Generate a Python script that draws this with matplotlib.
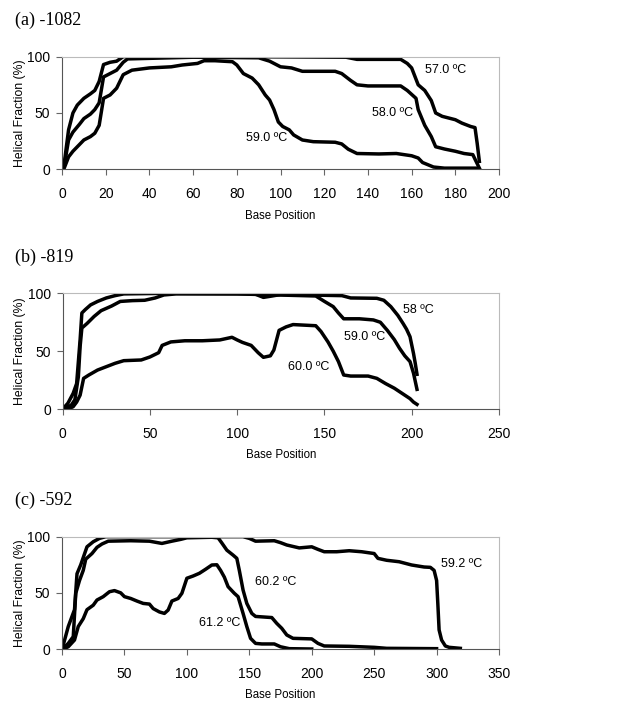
#
# helical fraction profiles, three panels
#
import matplotlib
matplotlib.use("Agg")
import matplotlib.pyplot as plt

# ---- (a) -1082 ----
a57_x = [1, 2, 3, 5, 7, 10, 13, 15, 17, 19, 22, 25, 28, 40, 80, 130, 135, 155, 158, 160, 163, 166, 169, 171, 174, 180, 183, 187, 189, 190, 191]
a57_y = [5, 20, 35, 50, 57, 63, 67, 70, 78, 93, 95, 96, 100, 100, 100, 99.5, 97.6, 97.6, 94, 90, 75, 70, 61, 50, 47, 44, 41, 38, 37, 23, 7]
a58_x = [1, 3, 5, 8, 10, 13, 15, 17, 19, 22, 25, 28, 30, 60, 90, 95, 100, 105, 110, 125, 128, 132, 135, 140, 155, 158, 162, 163, 166, 169, 171, 175, 180, 184, 188, 190, 191]
a58_y = [3, 26, 33, 40, 45, 49, 53, 59, 82, 85, 88, 95, 98, 99.5, 99, 96, 91, 90, 87, 87, 85, 79, 75, 74, 74, 70, 63, 53, 39, 29, 20, 18, 16, 14, 13, 5, 1]
a59_x = [1, 3, 5, 8, 10, 13, 15, 17, 19, 22, 25, 28, 32, 40, 50, 55, 62, 65, 70, 78, 80, 83, 87, 90, 93, 95, 97, 99, 101, 104, 106, 110, 115, 125, 128, 131, 135, 145, 153, 160, 163, 165, 170, 175, 190]
a59_y = [1, 11, 16, 22, 26, 29, 32, 39, 63, 66, 72, 84, 88, 90, 91, 92.6, 94, 96.4, 96.4, 95.5, 92.6, 85, 81, 75, 66, 61.5, 53, 42, 38, 35, 30.5, 26, 24.5, 24, 22.5, 17.8, 14, 13.6, 14, 12, 10, 6, 2, 1, 1]

# ---- (b) -819 ----
b58_x = [0, 3, 6, 8, 10, 11, 13, 16, 20, 25, 30, 35, 60, 110, 115, 120, 125, 160, 165, 180, 184, 188, 192, 195, 197, 199, 201, 202, 203]
b58_y = [0, 5, 13.5, 22, 60, 83, 86, 90, 93, 96, 98, 99.5, 100, 99.5, 96.5, 97.7, 99, 98, 96, 95.7, 94, 88.5, 81, 74, 69, 62.5, 48, 39.5, 30]
b59_x = [0, 2, 5, 7, 9, 10, 11, 14, 18, 22, 28, 33, 40, 47, 53, 58, 65, 100, 145, 150, 155, 158, 161, 170, 178, 182, 186, 190, 193, 196, 199, 201, 203]
b59_y = [0, 1, 3.5, 8, 28, 54, 70, 74, 80, 85, 89, 93, 93.7, 94, 96, 98.6, 99.5, 99.5, 97.7, 93, 88.5, 83, 78, 78, 77, 75, 68, 60, 52.5, 46, 41, 31, 17]
b60_x = [0, 3, 6, 8, 10, 12, 15, 20, 25, 30, 35, 45, 50, 55, 57, 62, 70, 80, 90, 97, 100, 103, 108, 112, 115, 119, 121, 124, 128, 132, 145, 148, 152, 155, 158, 161, 165, 175, 180, 185, 190, 195, 199, 201, 203]
b60_y = [0, 0, 2, 6, 12, 26.5, 29.4, 33.7, 36.6, 39.5, 41.8, 42.4, 45, 48.7, 55, 58, 59, 59, 59.7, 62, 59.7, 57.6, 55, 48.7, 44.7, 46, 51, 68, 71, 73, 72, 67, 58, 50, 41, 29.4, 28.5, 28.5, 26.5, 22, 18, 13, 9, 6, 4]

# ---- (c) -592 ----
c592_x = [1, 5, 8, 10, 12, 15, 20, 25, 30, 35, 145, 150, 155, 170, 175, 180, 190, 200, 205, 210, 220, 230, 240, 250, 253, 260, 270, 280, 290, 295, 298, 300, 301, 302, 304, 307, 310, 319]
c592_y = [3.6, 20, 29, 35, 67, 75, 91, 95.5, 98.5, 100, 100, 98.5, 96, 96.4, 94.7, 92.6, 90, 91, 88.7, 86.6, 86.6, 87.5, 86.6, 85, 80.7, 79, 77.7, 74.8, 73, 72.7, 70, 61, 40, 17, 8, 2.7, 1.5, 0.6]
c602_x = [1, 5, 9, 11, 14, 17, 19, 24, 28, 32, 37, 55, 70, 80, 88, 95, 100, 120, 125, 128, 132, 137, 140, 142, 145, 148, 152, 155, 168, 172, 176, 180, 185, 200, 205, 210, 230, 250, 260, 300]
c602_y = [0.6, 5, 11, 49.6, 61, 70, 80, 85, 90.5, 93.5, 96, 96.4, 96, 94, 96, 97.6, 99, 99.5, 99, 94.4, 88, 83.6, 80.7, 70, 52.5, 40.6, 31.7, 29, 28, 22.8, 18.4, 12.5, 9.5, 9, 5, 2.7, 2.4, 1.5, 0.6, 0.3]
c612_x = [1, 5, 10, 13, 17, 20, 25, 28, 33, 38, 42, 47, 50, 55, 60, 65, 70, 73, 78, 82, 85, 88, 93, 96, 100, 105, 110, 115, 120, 124, 127, 130, 133, 138, 141, 145, 148, 151, 155, 160, 170, 175, 182, 200]
c612_y = [0, 2, 8, 20, 27, 35, 39, 43.6, 46.6, 51, 52, 50, 46.6, 45, 42.7, 40.6, 40, 36, 33, 31.7, 34.7, 42.7, 45, 49.6, 63, 65, 67.4, 71, 74.8, 75, 70, 64, 55.5, 49.6, 46.6, 31.7, 20, 9.5, 5, 4.5, 4.5, 2, 0.3, 0]

panels = [
    {"title": "(a) -1082", "xmax": 200, "xstep": 20,
     "curves": [(a57_x, a57_y), (a58_x, a58_y), (a59_x, a59_y)],
     "labels": [("57.0 ºC", 166, 88), ("58.0 ºC", 142, 50), ("59.0 ºC", 84, 27.5)]},
    {"title": "(b) -819", "xmax": 250, "xstep": 50,
     "curves": [(b58_x, b58_y), (b59_x, b59_y), (b60_x, b60_y)],
     "labels": [("58 ºC", 195, 86), ("59.0 ºC", 161, 62.5), ("60.0 ºC", 129, 36.6)]},
    {"title": "(c) -592", "xmax": 350, "xstep": 50,
     "curves": [(c592_x, c592_y), (c602_x, c602_y), (c612_x, c612_y)],
     "labels": [("59.2 ºC", 303.5, 76), ("60.2 ºC", 154.7, 60), ("61.2 ºC", 110, 23)]},
]

plt.rcParams['font.family'] = ['Liberation Sans', 'DejaVu Sans']

fig = plt.figure(figsize=(6.44, 7.2), dpi=100)

# axes rectangles in figure fraction, title y in pixels
boxes = [(0.0963, 0.7649, 0.6786, 0.1564, 20),
         (0.0973, 0.4319, 0.6776, 0.1607, 257),
         (0.0963, 0.0986, 0.6786, 0.1560, 500)]

for p, (l, b, w, h, ty) in zip(panels, boxes):
    ax = fig.add_axes([l, b, w, h])
    for xs, ys in p["curves"]:
        ax.plot(xs, ys, color='black', lw=2.5, solid_joinstyle='round')
    for txt, tx, tyy in p["labels"]:
        ax.text(tx, tyy, txt, fontsize=9, ha='left', va='center')
    ax.set_xlim(0, p["xmax"])
    ax.set_ylim(0, 100)
    ax.set_xticks(range(0, p["xmax"] + 1, p["xstep"]))
    ax.set_yticks([0, 50, 100])
    ax.tick_params(labelsize=10, length=4, width=0.8, color='#666666')
    ax.tick_params(axis='x', pad=9)
    ax.tick_params(axis='y', pad=4.5)
    for s in ['left', 'bottom']:
        ax.spines[s].set_color('#555555')
        ax.spines[s].set_linewidth(0.8)
    for s in ['top', 'right']:
        ax.spines[s].set_color('#bbbbbb')
        ax.spines[s].set_linewidth(0.8)
    ax.set_xlabel("Base Position", fontsize=8.3, labelpad=6)
    ax.set_ylabel("Helical Fraction (%)", fontsize=8.8, labelpad=1)
    fig.text(15 / 644, 1 - ty / 720, p["title"], fontsize=13,
             family='Liberation Serif', ha='left', va='center')

fig.savefig("out.png", dpi=100)
